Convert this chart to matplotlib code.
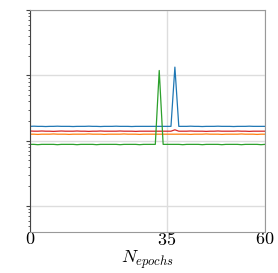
import matplotlib.pyplot as plt
import numpy as np

plt.rcParams['mathtext.fontset'] = 'cm'
plt.rcParams['font.family'] = 'serif'
plt.rcParams['font.serif'] = ['cmr10', 'DejaVu Serif']
plt.rcParams['axes.formatter.use_mathtext'] = True

epochs = np.arange(61)

# потери по эпохам
blue = [0.166, 0.167, 0.166, 0.166, 0.165, 0.166, 0.166, 0.167, 0.166, 0.166,
        0.166, 0.165, 0.166, 0.166, 0.166, 0.167, 0.166, 0.166, 0.165, 0.166,
        0.166, 0.166, 0.167, 0.166, 0.166, 0.166, 0.165, 0.166, 0.166, 0.166,
        0.166, 0.166, 0.166, 0.166, 0.166, 0.166, 0.166, 1.34, 0.166, 0.166,
        0.166, 0.167, 0.166, 0.166, 0.165, 0.166, 0.166, 0.166, 0.167, 0.166,
        0.166, 0.166, 0.165, 0.166, 0.166, 0.166, 0.167, 0.166, 0.166, 0.166,
        0.166]
red = [0.141, 0.140, 0.140, 0.141, 0.140, 0.140, 0.139, 0.140, 0.141, 0.140,
       0.140, 0.140, 0.141, 0.140, 0.140, 0.139, 0.140, 0.140, 0.141, 0.140,
       0.140, 0.140, 0.140, 0.141, 0.140, 0.140, 0.140, 0.139, 0.140, 0.140,
       0.140, 0.140, 0.140, 0.140, 0.140, 0.140, 0.140, 0.147, 0.140, 0.140,
       0.140, 0.141, 0.140, 0.140, 0.140, 0.139, 0.140, 0.140, 0.141, 0.140,
       0.140, 0.140, 0.140, 0.141, 0.140, 0.140, 0.139, 0.140, 0.140, 0.140,
       0.140]
orange = [0.126, 0.126, 0.125, 0.126, 0.126, 0.126, 0.127, 0.126, 0.126, 0.126,
          0.125, 0.126, 0.126, 0.126, 0.126, 0.127, 0.126, 0.126, 0.126, 0.125,
          0.126, 0.126, 0.126, 0.126, 0.127, 0.126, 0.126, 0.126, 0.125, 0.126,
          0.126, 0.126, 0.126, 0.126, 0.126, 0.126, 0.126, 0.126, 0.126, 0.126,
          0.126, 0.125, 0.126, 0.126, 0.126, 0.127, 0.126, 0.126, 0.126, 0.125,
          0.126, 0.126, 0.126, 0.126, 0.127, 0.126, 0.126, 0.126, 0.125, 0.126,
          0.126]
green = [0.088, 0.088, 0.087, 0.088, 0.088, 0.088, 0.088, 0.087, 0.088, 0.088,
         0.088, 0.088, 0.087, 0.088, 0.088, 0.088, 0.088, 0.087, 0.088, 0.088,
         0.088, 0.088, 0.088, 0.087, 0.088, 0.088, 0.088, 0.088, 0.087, 0.088,
         0.088, 0.088, 0.088, 1.19, 0.088, 0.088, 0.088, 0.088, 0.088, 0.087,
         0.088, 0.088, 0.088, 0.088, 0.087, 0.088, 0.088, 0.088, 0.088, 0.087,
         0.088, 0.088, 0.088, 0.088, 0.087, 0.088, 0.088, 0.088, 0.088, 0.087,
         0.088]

xticks = [0, 35, 60]

fig = plt.figure(figsize=(2.78, 2.73), dpi=100)
ax = fig.add_axes([0.108, 0.150, 0.845, 0.813])

ax.plot(epochs, blue, color='tab:blue', lw=0.9)
ax.plot(epochs, red, color='tab:red', lw=0.9)
ax.plot(epochs, orange, color='tab:orange', lw=0.9)
ax.plot(epochs, green, color='tab:green', lw=0.9)

ax.set_yscale('log')
ax.set_ylim(4e-3, 10)
ax.set_xlim(0, 60)
ax.set_xticks(xticks)
ax.set_xticklabels([f'${t}$' for t in xticks], fontsize=13)
ax.tick_params(axis='x', length=0, pad=-1)
ax.tick_params(axis='y', which='major', length=3, color='#444444')
ax.tick_params(axis='y', which='minor', length=1.5, color='#444444')
ax.set_yticklabels([], minor=False)
ax.set_yticklabels([], minor=True)
ax.grid(True, which='major', color='#dddddd', lw=1.0)
for s in ['top', 'right', 'bottom']:
    ax.spines[s].set_color('#999999')
ax.spines['left'].set_color('#444444')
ax.set_xlabel('$N_{epochs}$', fontsize=13, labelpad=1)

plt.savefig('out.png', dpi=100)
plt.close()
